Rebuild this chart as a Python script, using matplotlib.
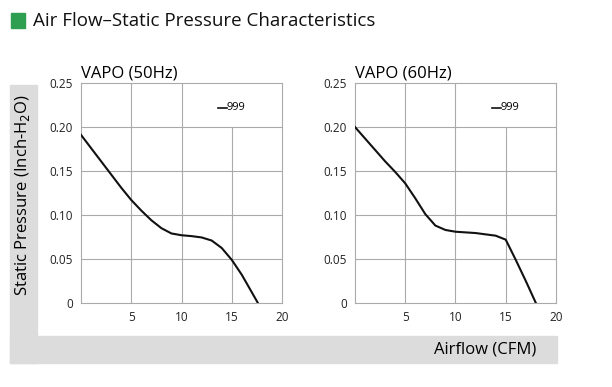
import matplotlib
matplotlib.use("Agg")
import matplotlib.pyplot as plt
from matplotlib.patches import Rectangle

# values
x50 = [0, 1, 2, 3, 4, 5, 6, 7, 8, 9, 10, 11, 12, 13, 14, 15, 16, 17, 17.6]
y50 = [0.191, 0.176, 0.161, 0.146, 0.131, 0.117, 0.105, 0.094, 0.085, 0.079, 0.077, 0.076, 0.0745, 0.071, 0.0625, 0.049, 0.032, 0.012, 0.0]

x60 = [0, 1, 2, 3, 4, 5, 6, 7, 8, 9, 10, 12, 14, 15, 16, 17, 18]
y60 = [0.200, 0.187, 0.174, 0.161, 0.149, 0.136, 0.119, 0.101, 0.088, 0.083, 0.081, 0.0795, 0.0765, 0.072, 0.049, 0.025, 0.0]

xticks_ = [5, 10, 15, 20]
yticks_ = [0, 0.05, 0.10, 0.15, 0.20, 0.25]
ylabels = ['0', '0.05', '0.10', '0.15', '0.20', '0.25']

panels = [('VAPO (50Hz)', x50, y50, 0.1324), ('VAPO (60Hz)', x60, y60, 0.580)]

plt.rcParams['font.family'] = ['Open Sans', 'DejaVu Sans']

fig = plt.figure(figsize=(6.12, 3.87), dpi=100)
W, H = 612.0, 387.0
band = '#dcdcdc'
fig.patches.append(Rectangle((10/W, 1-363/H), 27/W, (363-85)/H, transform=fig.transFigure, color=band, zorder=0))
fig.patches.append(Rectangle((10/W, 1-363/H), (557-10)/W, 27/H, transform=fig.transFigure, color=band, zorder=0))

# title with green square
fig.patches.append(Rectangle((11/W, 1-28/H), 14/W, 15/H, transform=fig.transFigure, color='#2e9e50', zorder=1))
fig.text(33/W, 1-21/H, 'Air Flow\u2013Static Pressure Characteristics', fontsize=13.5, va='center', ha='left', color='#111111')

gc = '#aaaaaa'
for title, xs, ys, left in panels:
    ax = fig.add_axes([left, 1-303/H, 201/W, 220/H])
    ax.set_xlim(0, 20)
    ax.set_ylim(0, 0.25)
    for yv in [0.05, 0.10, 0.15, 0.20]:
        ax.axhline(yv, color=gc, lw=0.8, zorder=1)
    ax.axvline(5, color=gc, lw=0.8, zorder=1)
    ax.axvline(10, color=gc, lw=0.8, zorder=1)
    ax.axvline(15, ymax=0.8, color=gc, lw=0.8, zorder=1)
    for sp in ax.spines.values():
        sp.set_color(gc)
        sp.set_linewidth(0.8)
    ax.plot(xs, ys, color='#111111', lw=1.5, zorder=3)
    ax.set_xticks(xticks_)
    ax.set_yticks(yticks_)
    ax.set_yticklabels(ylabels)
    ax.tick_params(length=0, labelsize=8.5, colors='#222222', pad=6)
    ax.set_title(title, loc='left', fontsize=12, pad=4, x=0.0)
    # legend-like label
    ax.plot([13.6, 14.5], [0.222, 0.222], color='#111111', lw=1.2)
    ax.text(14.5, 0.222, '999', fontsize=8, va='center', ha='left')

fig.text(23/W, 1-195/H, 'Static Pressure (Inch-H$_2$O)', rotation=90, fontsize=12, ha='center', va='center')
fig.text(485/W, 1-350/H, 'Airflow (CFM)', fontsize=12, ha='center', va='center')

fig.savefig('out.png', dpi=100)
